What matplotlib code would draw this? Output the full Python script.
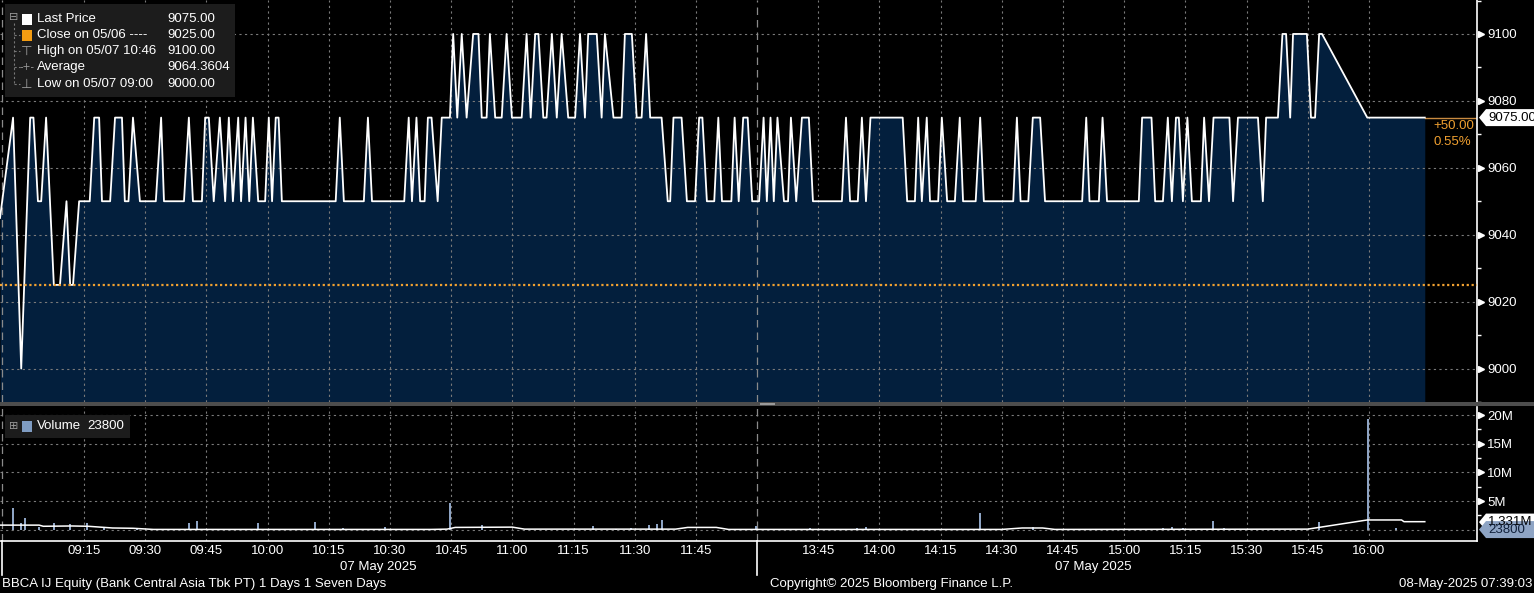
import matplotlib
matplotlib.use('Agg')
import matplotlib.pyplot as plt
from matplotlib.patches import Rectangle, Polygon
from matplotlib.lines import Line2D

W, H = 1534, 593

# x = trading minutes after 09:00 (12:00-13:30 break removed)
t_price = [-5.6, -2.4, -0.4, 1.8, 2.6, 3.7, 4.5, 5.7, 7.6, 9.1, 10.7, 11.6, 12.3, 13.8, 16.4, 17.5,
           18.7, 19.4, 21.4, 22.6, 24.3, 25.0, 25.9, 27.0, 28.7, 32.6, 33.9, 34.6, 39.5, 40.7, 41.7,
           43.9, 44.7, 45.6, 46.8, 48.3, 49.6, 50.5, 51.5, 52.8, 53.5, 54.6, 55.5, 56.4, 57.7, 59.4,
           60.3, 61.1, 62.0, 62.7, 63.5, 76.7, 77.7, 78.7, 83.6, 84.6, 85.6, 93.5, 94.6, 95.4, 96.5,
           97.4, 98.5, 99.3, 100.2, 101.7, 102.7, 104.7, 105.5, 106.5, 107.6, 108.8, 110.4, 111.7,
           112.5, 113.7, 114.5, 115.8, 117.4, 118.6, 119.9, 122.3, 123.5, 124.5, 125.6, 126.4, 127.6,
           128.4, 129.7, 130.9, 132.1, 133.7, 135.4, 136.6, 137.8, 138.6, 140.7, 141.9, 142.7, 144.8,
           146.8, 147.6, 149.3, 150.5, 151.7, 152.8, 153.8, 156.6, 158.1, 158.7, 159.5, 161.5, 162.8,
           164.8, 165.8, 166.6, 167.7, 169.5, 170.5, 171.4, 173.7, 174.5, 175.5, 176.6, 177.7, 178.8,
           180.5, 181.6, 182.4, 183.3, 184.1, 185.0, 186.6, 187.6, 188.3, 189.6, 191.0, 192.7, 193.7,
           200.8, 201.8, 202.8, 204.7, 205.7, 206.7, 207.8, 215.7, 216.8, 218.7, 219.5, 220.4, 221.6,
           222.4, 224.4, 225.3, 226.6, 228.5, 229.7, 230.5, 233.6, 234.7, 235.6, 242.8, 243.7, 244.6,
           246.5, 247.6, 249.4, 250.6, 259.7, 260.7, 261.5, 263.8, 264.7, 265.8, 273.6, 274.4, 276.7,
           277.6, 279.5, 280.7, 281.7, 282.7, 283.4, 284.4, 285.5, 286.6, 288.8, 289.6, 290.8, 291.9,
           295.8, 296.7, 297.9, 302.8, 304.0, 304.8, 307.7, 308.8, 309.7, 310.7, 311.4, 314.8, 315.8,
           316.8, 317.8, 318.5, 329.6, 343.7]
p_price = [9045, 9075, 9000, 9075, 9075, 9050, 9050, 9075, 9025, 9025, 9050, 9025, 9025, 9050, 9050, 9075,
           9075, 9050, 9050, 9075, 9075, 9050, 9050, 9075, 9050, 9050, 9075, 9050, 9050, 9075, 9050,
           9050, 9075, 9075, 9050, 9075, 9050, 9075, 9050, 9075, 9050, 9075, 9050, 9075, 9050, 9050,
           9075, 9050, 9075, 9075, 9050, 9050, 9075, 9050, 9050, 9075, 9050, 9050, 9075, 9050, 9075,
           9050, 9050, 9075, 9075, 9050, 9075, 9075, 9100, 9075, 9100, 9075, 9100, 9100,
           9075, 9075, 9100, 9075, 9075, 9100, 9075, 9075, 9100, 9075, 9100, 9100, 9075,
           9075, 9100, 9075, 9100, 9075, 9075, 9100, 9075, 9100, 9100, 9075, 9100, 9075,
           9075, 9100, 9100, 9075, 9075, 9100, 9075, 9075, 9050, 9050, 9075, 9075, 9050,
           9050, 9075, 9075, 9050, 9050, 9075, 9050, 9050, 9075, 9050, 9075, 9075, 9050,
           9050, 9075, 9050, 9075, 9050, 9075, 9050, 9050, 9075, 9050, 9075, 9075, 9050,
           9050, 9075, 9050, 9050, 9075, 9050, 9075, 9075, 9050, 9050, 9075, 9050, 9075,
           9050, 9050, 9075, 9050, 9050, 9075, 9050, 9050, 9075, 9050, 9050, 9075, 9050,
           9050, 9075, 9075, 9050, 9050, 9075, 9050, 9050, 9075, 9050, 9050, 9075, 9075,
           9050, 9050, 9075, 9050, 9075, 9075, 9050, 9075, 9050, 9050, 9075, 9050, 9075,
           9075, 9050, 9075, 9075, 9050, 9075, 9075, 9100, 9100, 9075, 9100, 9100, 9075,
           9075, 9100, 9100, 9075, 9075]

# volume bars, millions of shares
vol_t = [-2.5, -0.5, 0.5, 4.0, 7.6, 11.6, 15.7, 20.0, 28.0, 40.7, 42.7, 57.7, 71.6, 78.6, 88.8, 104.7,
         112.5, 139.7, 145.4, 149.0, 153.5, 155.5, 156.6, 179.8, 193.0, 204.4, 206.6, 215.5, 234.7,
         247.7, 273.0, 279.5, 281.7, 284.4, 291.7, 294.5, 317.8, 329.8, 336.6]
vol_v = [3.8, 1.2, 2.1, 0.4, 1.2, 1.0, 1.2, 0.3, 0.2, 1.2, 1.5, 1.1, 1.4, 0.3, 0.4, 4.6,
         0.8, 0.6, 0.2, 0.3, 0.8, 1.0, 1.7, 0.7, 0.3, 0.3, 0.5, 0.2, 3.0,
         0.4, 0.2, 0.3, 0.5, 0.3, 1.5, 0.3, 1.4, 19.4, 0.3]
# volume average line
avg_t = [-5.6, 4, 5, 12, 16, 22, 27, 32, 100, 104, 106, 120, 123, 160, 163, 170, 173, 240, 245,
         250, 253, 315, 329.6, 338, 338.6, 343.7]
avg_v = [0.8, 0.8, 0.6, 0.65, 0.6, 0.3, 0.25, 0.05, 0.05, 0.1, 0.4, 0.45, 0.1, 0.1, 0.4, 0.4, 0.05,
         0.05, 0.3, 0.3, 0.05, 0.1, 1.7, 1.7, 1.4, 1.4]

tick_t = [15, 30, 45, 60, 75, 90, 105, 120, 135, 150, 165, 195, 210, 225, 240, 255, 270, 285, 300, 315, 330]
tick_lab = ['09:15', '09:30', '09:45', '10:00', '10:15', '10:30', '10:45', '11:00', '11:15', '11:30',
            '11:45', '13:45', '14:00', '14:15', '14:30', '14:45', '15:00', '15:15', '15:30', '15:45', '16:00']
session_t = [-5.1, 180]
price_ticks = [9000, 9020, 9040, 9060, 9080, 9100]
price_minor = [8990, 9010, 9030, 9050, 9070, 9090, 9110]
vol_ticks = [5, 10, 15, 20]
vol_minor = [2.5, 7.5, 12.5, 17.5]
prev_close = 9025
last_price = 9075

FILL = '#031f3d'
GRID = '#7a7a7a'
ORANGE = '#f0a030'
VOLC = '#8ea4c4'
FONT = 'Liberation Sans'
FS = 9.5

plt.rcParams['font.family'] = [FONT, 'DejaVu Sans']


def fx(x):
    return x / W


def fy(y):
    return 1 - y / H


fig = plt.figure(figsize=(W / 100, H / 100), dpi=100, facecolor='black')
ax = fig.add_axes([0, fy(402), 1477 / W, 402 / H])
axv = fig.add_axes([0, fy(541), 1477 / W, 134 / H])

for a in (ax, axv):
    a.set_facecolor('black')
    for s in ('left', 'top', 'bottom'):
        a.spines[s].set_visible(False)
    a.spines['right'].set_color('white')
    a.spines['right'].set_linewidth(1.2)
    a.set_xlim(-5.6, 356.5)
    a.yaxis.tick_right()
    a.tick_params(axis='y', which='major', length=0, pad=7.5, labelsize=FS, labelcolor='white')
    a.tick_params(axis='y', which='minor', length=3, width=1, color='white', direction='out')
    a.set_xticks(tick_t)
    a.grid(True, color=GRID, lw=0.8, ls=(0, (2, 3)))
    for st in session_t:
        a.axvline(st, color='#8a8a8a', lw=0.9, ls=(0, (6, 4)))

# price panel
ax.set_ylim(8990.15, 9110.15)
ax.set_yticks(price_ticks)
ax.set_yticks(price_minor, minor=True)
ax.tick_params(axis='x', length=0, labelbottom=False)
ax.fill_between(t_price, p_price, 8990.15, color=FILL, lw=0, zorder=1)
ax.plot(t_price, p_price, color='white', lw=1.3, zorder=3)
ax.axhline(prev_close, color=ORANGE, lw=1.6, ls=(0, (1, 1.2)), zorder=4)
ax.plot([1 + 4 / 1477] * len(price_ticks), price_ticks, ls='none', marker='>', ms=5, color='white',
        transform=ax.get_yaxis_transform(), clip_on=False)

# volume panel
axv.set_ylim(-1.97, 21.41)
axv.set_yticks(vol_ticks, [f'{v}M' for v in vol_ticks])
axv.set_yticks(vol_minor, minor=True)
axv.axhline(0, color=GRID, lw=0.8, ls=(0, (2, 3)))
axv.spines['bottom'].set_visible(True)
axv.spines['bottom'].set_color('white')
axv.spines['bottom'].set_linewidth(1.2)
axv.spines['bottom'].set_position(('data', -1.97))
axv.bar(vol_t, vol_v, width=0.5, color=VOLC, zorder=3)
axv.plot(avg_t, avg_v, color='white', lw=1.1, zorder=4)
axv.set_xticks(tick_t, tick_lab)
axv.tick_params(axis='x', length=0, pad=3, labelsize=FS, labelcolor='white')
axv.plot([1 + 4 / 1477] * len(vol_ticks), vol_ticks, ls='none', marker='>', ms=5, color='white',
         transform=axv.get_yaxis_transform(), clip_on=False)

# separator between panels
fig.add_artist(Rectangle((0, fy(406)), 1, 4 / H, transform=fig.transFigure, color='#4d4d4d', lw=0))
fig.add_artist(Rectangle((fx(760), fy(405)), 15 / W, 2 / H, transform=fig.transFigure, color='#9a9a9a', lw=0))

# session separators below the axis
for xp in (2, 757):
    fig.add_artist(Line2D([fx(xp), fx(xp)], [fy(541), fy(575)], transform=fig.transFigure, color='white', lw=1.2))


def tag(a, yval, text, fc, tc):
    yd = a.transData.transform((0, yval))[1]
    y = H - yd
    pts = [(1479, y), (1486, y - 8.5), (1534, y - 8.5), (1534, y + 8.5), (1486, y + 8.5)]
    fig.add_artist(Polygon([(fx(px), fy(py)) for px, py in pts], closed=True, transform=fig.transFigure,
                           fc=fc, ec='none', zorder=10))
    fig.text(fx(1488), fy(y), text, color=tc, fontsize=FS, va='center', ha='left', zorder=11)


tag(ax, last_price, f'{last_price:.2f}', 'white', 'black')
ax.plot([343.7, 356.5], [last_price, last_price], color='#c88a40', lw=1, zorder=2)
fig.text(fx(1433), fy(126), '+50.00', color=ORANGE, fontsize=FS, va='center')
fig.text(fx(1433), fy(142), '0.55%', color=ORANGE, fontsize=FS, va='center')
tag(axv, 1.331, '1.331M', 'white', 'black')
tag(axv, 0.0238, '23800', VOLC, '#10203a')

# legend (price)
fig.add_artist(Rectangle((fx(5), fy(97)), 230 / W, 93 / H, transform=fig.transFigure, color='#1c1c1c', lw=0))
rows = [19, 35, 51, 67, 84]
labels = ['Last Price', 'Close on 05/06 ----', 'High on 05/07 10:46', 'Average', 'Low on 05/07 09:00']
values = ['9075.00', '9025.00', '9100.00', '9064.3604', '9000.00']
for yr, lab, val in zip(rows, labels, values):
    fig.text(fx(37), fy(yr), lab, color='white', fontsize=FS, va='center')
    fig.text(fx(167), fy(yr), val, color='white', fontsize=FS, va='center')
fig.add_artist(Rectangle((fx(22), fy(25)), 10 / W, 11 / H, transform=fig.transFigure, color='white', lw=0))
fig.add_artist(Rectangle((fx(22), fy(41)), 10 / W, 11 / H, transform=fig.transFigure, color='#f39c12', lw=0))
fig.text(fx(27), fy(51), '⊤', color='#9a9a9a', fontsize=FS, va='center', ha='center', family='DejaVu Sans')
fig.text(fx(27), fy(67), '-+-', color='#9a9a9a', fontsize=7, va='center', ha='center', family='DejaVu Sans')
fig.text(fx(27), fy(84), '⊥', color='#9a9a9a', fontsize=FS, va='center', ha='center', family='DejaVu Sans')
fig.text(fx(14), fy(17), '⊟', color='#9a9a9a', fontsize=8, va='center', ha='center', family='DejaVu Sans')
fig.add_artist(Line2D([fx(14), fx(14)], [fy(23), fy(84)], transform=fig.transFigure, color='#777777', lw=0.8, ls=(0, (2, 2))))
for yr in rows[1:]:
    fig.add_artist(Line2D([fx(14), fx(20)], [fy(yr), fy(yr)], transform=fig.transFigure, color='#777777', lw=0.8, ls=(0, (2, 2))))

# legend (volume)
fig.add_artist(Rectangle((fx(5), fy(438)), 125 / W, 23 / H, transform=fig.transFigure, color='#1c1c1c', lw=0))
fig.text(fx(14), fy(426), '⊞', color='#9a9a9a', fontsize=8, va='center', ha='center', family='DejaVu Sans')
fig.add_artist(Rectangle((fx(22), fy(432)), 10 / W, 11 / H, transform=fig.transFigure, color='#7f9cc2', lw=0))
fig.text(fx(37), fy(426), 'Volume', color='white', fontsize=FS, va='center')
fig.text(fx(87), fy(426), '23800', color='white', fontsize=FS, va='center')

# dates and footer
fig.text(fx(378), fy(567), '07 May 2025', color='white', fontsize=FS, va='center', ha='center')
fig.text(fx(1093), fy(567), '07 May 2025', color='white', fontsize=FS, va='center', ha='center')
fig.text(fx(2), fy(584), 'BBCA IJ Equity (Bank Central Asia Tbk PT) 1 Days 1 Seven Days', color='white',
         fontsize=FS, va='center')
fig.text(fx(770), fy(584), 'Copyright© 2025 Bloomberg Finance L.P.', color='white', fontsize=FS, va='center')
fig.text(fx(1532), fy(584), '08-May-2025 07:39:03', color='white', fontsize=FS, va='center', ha='right')

fig.savefig('out.png', dpi=100, facecolor='black')
